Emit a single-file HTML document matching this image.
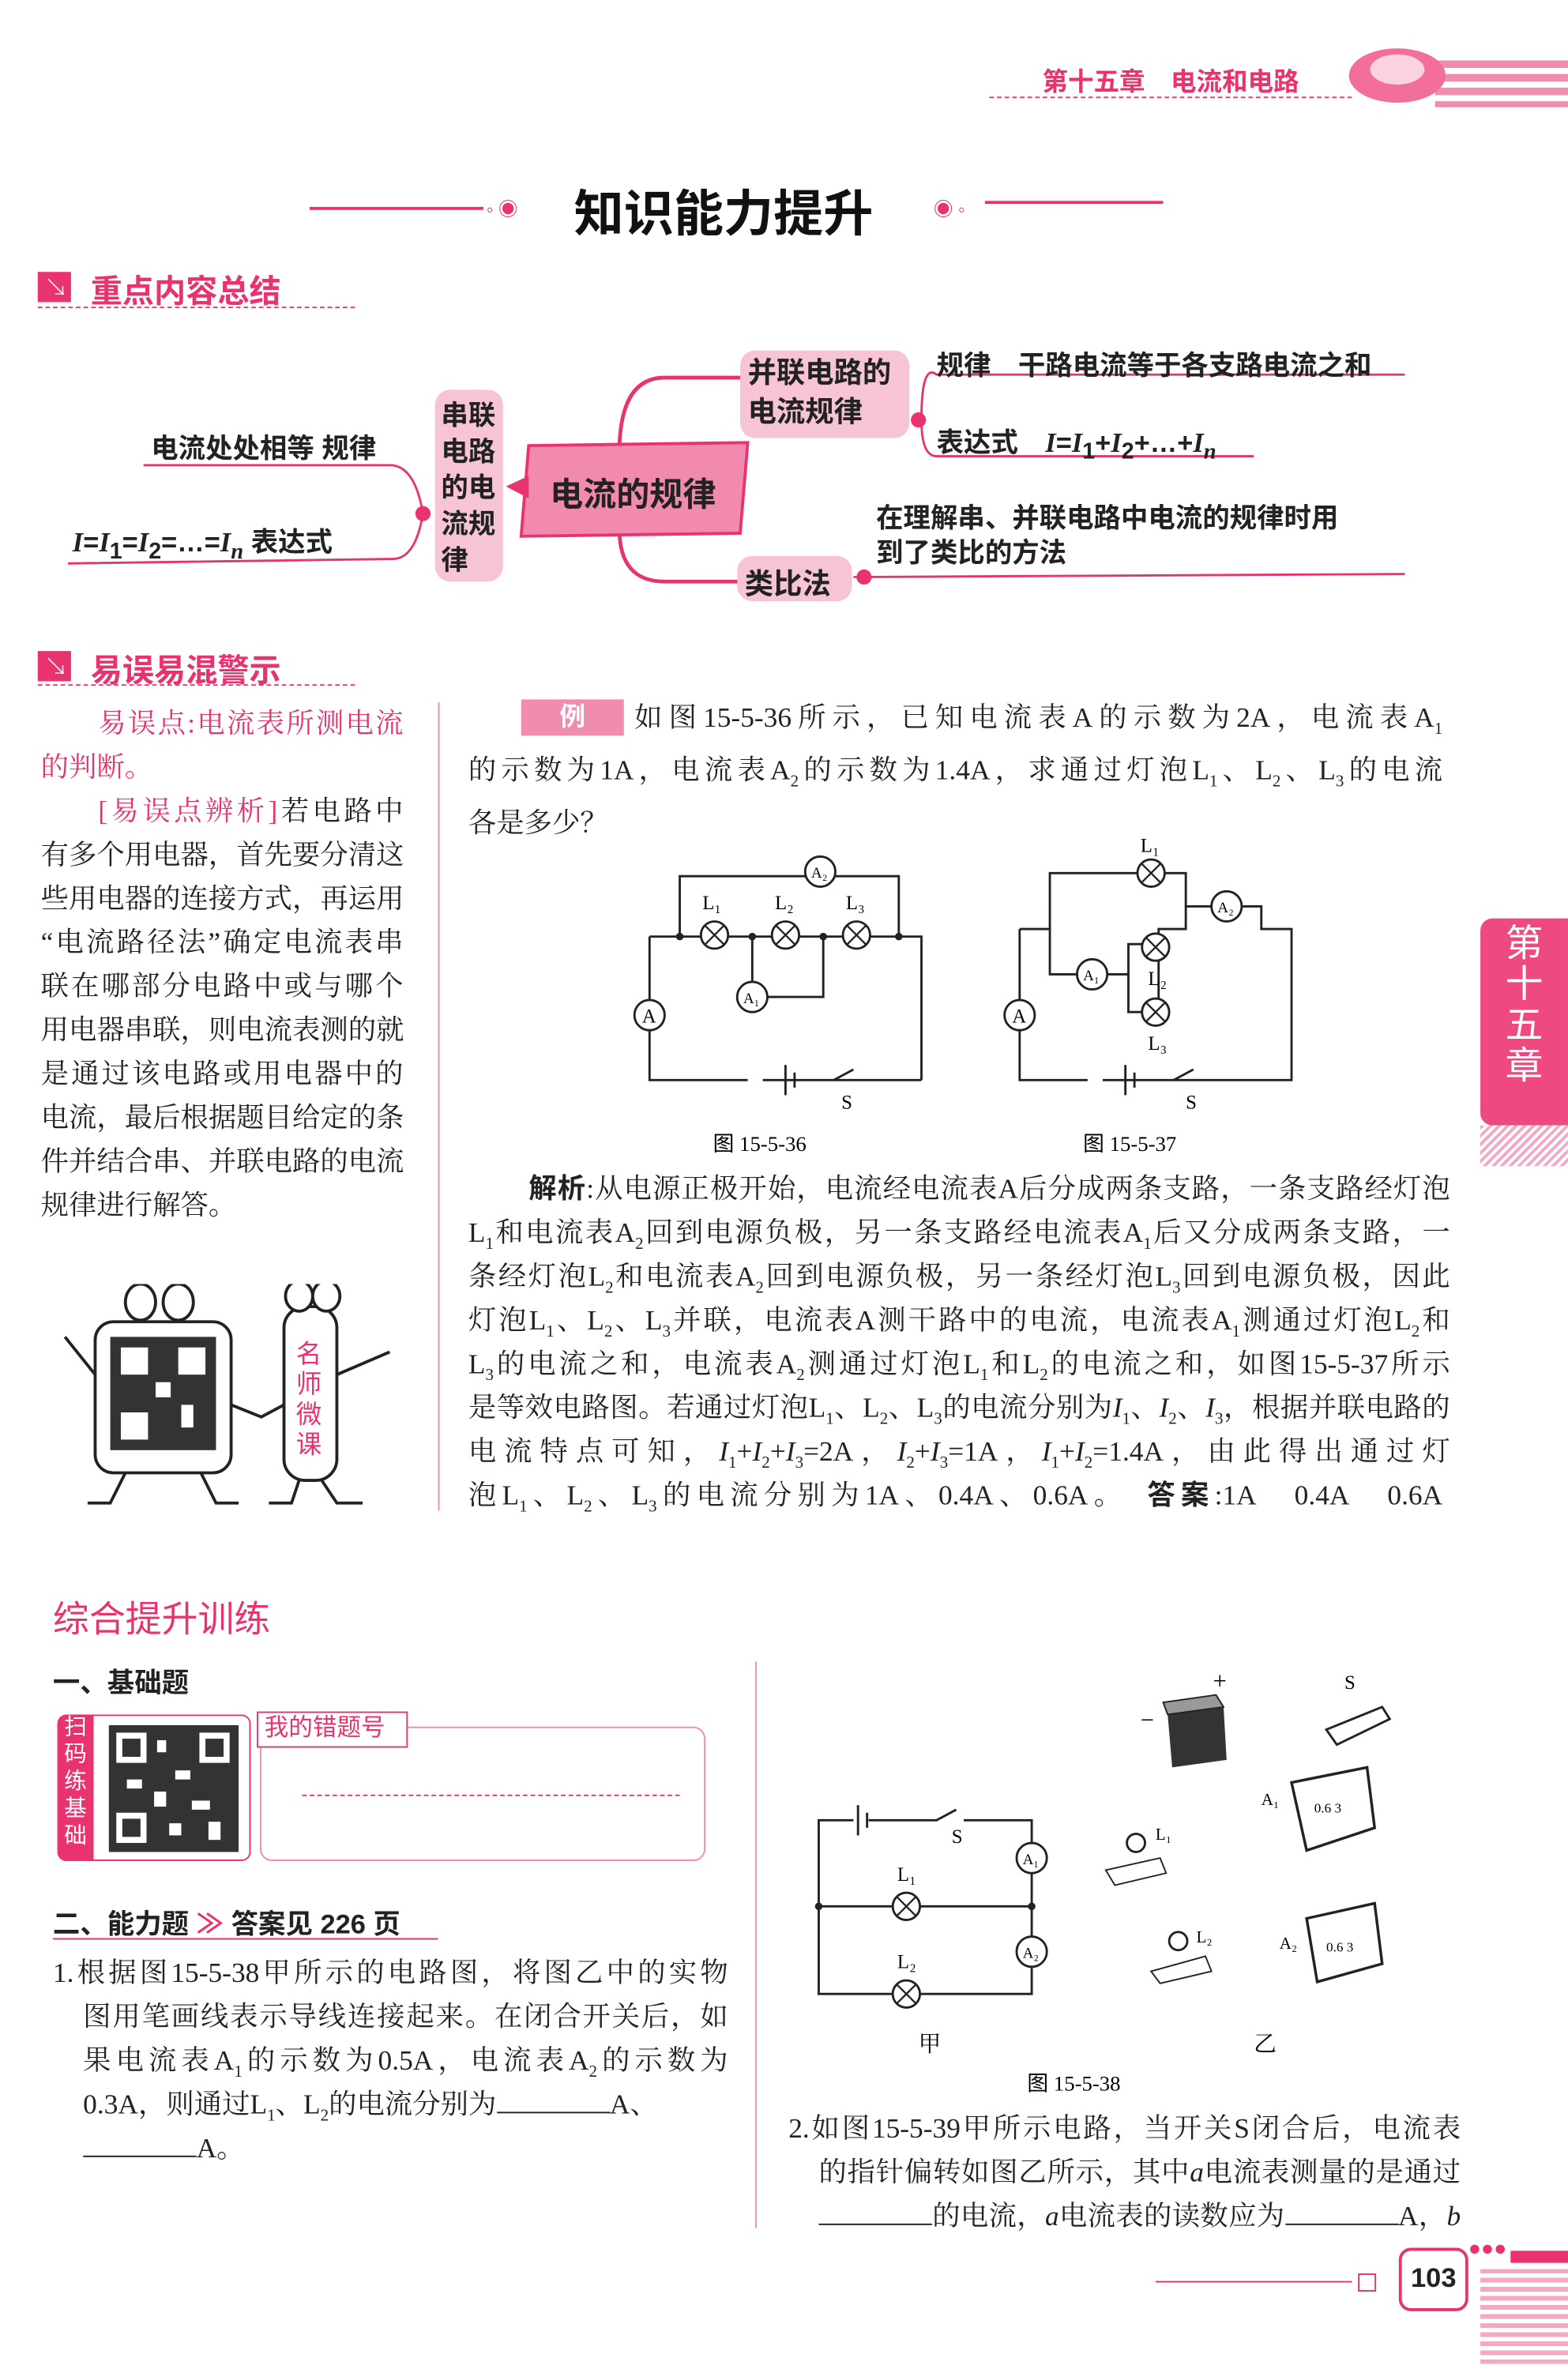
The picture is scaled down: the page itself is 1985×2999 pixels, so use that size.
<!DOCTYPE html>
<html><head><meta charset="utf-8">
<style>
html,body{margin:0;padding:0;background:#fff;}
#root{width:1985px;height:2999px;overflow:hidden;position:relative;background:#fff;}
#pg{position:absolute;left:0;top:0;width:1038px;height:1568px;transform:scale(1.9123);transform-origin:0 0;font-family:"Liberation Serif","Noto Serif CJK SC",serif;color:#222;}
.a{position:absolute;white-space:nowrap;}
.sans{font-family:"Liberation Sans","Noto Sans CJK SC",sans-serif;}
.ln{position:absolute;font-size:18.5px;text-align:justify;text-align-last:justify;white-space:nowrap;}
.pk{color:#e8336f;}
.hd{position:absolute;font-family:"Liberation Sans","Noto Sans CJK SC",sans-serif;font-weight:bold;color:#e8336f;font-size:21px;}
.icon{position:absolute;width:22px;height:20px;background:#e8336f;}
.mm{position:absolute;font-family:"Liberation Sans","Noto Sans CJK SC",sans-serif;font-weight:bold;font-size:19px;color:#222;}
i.v{font-style:italic;font-family:"Liberation Serif",serif;}
</style></head><body><div id="root"><div id="pg">

<!-- header -->
<div class="a sans" style="left:690px;top:40px;font-size:17px;font-weight:bold;color:#e8336f;">第十五章　电流和电路</div>
<div class="a" style="left:655px;top:64px;width:240px;border-top:1px dashed #e8336f;"></div>
<svg class="a" style="left:880px;top:28px" width="158" height="50">
<g fill="#f08cb0"><rect x="70" y="12" width="88" height="5"/><rect x="70" y="21" width="88" height="5"/><rect x="70" y="30" width="88" height="5"/><rect x="70" y="39" width="88" height="4"/></g>
<ellipse cx="45" cy="22" rx="32" ry="18" fill="#f26f9a"/><ellipse cx="45" cy="18" rx="18" ry="10" fill="#fbd2df"/>
</svg>

<!-- title -->
<div class="a" style="left:205px;top:137px;width:115px;border-top:2px solid #e8336f;"></div>
<div class="a pk" style="left:322px;top:128px;font-size:13px;">◦ ◉</div>
<div class="a sans" style="left:380px;top:115px;font-size:33px;font-weight:bold;color:#111;">知识能力提升</div>
<div class="a pk" style="left:618px;top:128px;font-size:13px;">◉ ◦</div>
<div class="a" style="left:652px;top:133px;width:118px;border-top:2px solid #e8336f;"></div>

<!-- section 1 -->
<div class="icon" style="left:25px;top:180px;"></div><div class="a" style="left:29px;top:178px;color:#fff;font-size:16px;font-weight:bold;">↘</div>
<div class="hd" style="left:60px;top:177px;">重点内容总结</div>
<div class="a" style="left:25px;top:203px;width:210px;border-top:1px dashed #e8336f;"></div>

<!-- mind map -->
<svg class="a" style="left:0;top:220px" width="1038" height="180">
<g stroke="#e8336f" stroke-width="2.5" fill="none">
<path d="M410 80 Q410 30 440 30 L490 30"/>
<path d="M410 130 Q410 165 440 165 L490 165"/>
<path d="M610 58 Q610 20 620 28 L930 28" stroke-width="1.5"/>
<path d="M610 58 Q610 82 620 82 L830 82" stroke-width="1.5"/>
<path d="M565 162 L930 160" stroke-width="1.5"/>
<path d="M280 120 Q275 90 260 88 L95 88" stroke-width="1.5"/>
<path d="M280 120 Q275 150 260 150 L45 153" stroke-width="1.5"/>
</g>
<polygon points="350,75 495,73 490,133 345,135" fill="#f28ab0" stroke="#e8336f" stroke-width="2"/>
<polygon points="335,102 350,95 350,110" fill="#e8336f"/>
<rect x="288" y="38" width="45" height="127" rx="10" fill="#f7c3d6"/>
<rect x="490" y="12" width="112" height="58" rx="10" fill="#f7c3d6"/>
<rect x="488" y="148" width="76" height="30" rx="10" fill="#f7c3d6"/>
<circle cx="608" cy="58" r="5" fill="#e8336f"/><circle cx="572" cy="162" r="5" fill="#e8336f"/><circle cx="280" cy="120" r="5" fill="#e8336f"/>
</svg>
<div class="mm" style="left:364px;top:310px;font-size:22px;">电流的规律</div>
<div class="mm" style="left:292px;top:263px;line-height:24px;font-size:18px;">串联<br>电路<br>的电<br>流规<br>律</div>
<div class="mm" style="left:495px;top:235px;line-height:26px;">并联电路的<br>电流规律</div>
<div class="mm" style="left:493px;top:372px;">类比法</div>
<div class="mm" style="left:620px;top:228px;font-size:18px;">规律　干路电流等于各支路电流之和</div>
<div class="mm" style="left:620px;top:279px;font-size:18px;">表达式　<i class="v">I</i>=<i class="v">I</i><sub>1</sub>+<i class="v">I</i><sub>2</sub>+…+<i class="v">I<sub>n</sub></i></div>
<div class="mm" style="left:580px;top:332px;font-size:18px;line-height:23px;">在理解串、并联电路中电流的规律时用<br>到了类比的方法</div>
<div class="mm" style="left:100px;top:283px;font-size:18px;">电流处处相等 规律</div>
<div class="mm" style="left:48px;top:345px;font-size:18px;"><i class="v">I</i>=<i class="v">I</i><sub>1</sub>=<i class="v">I</i><sub>2</sub>=…=<i class="v">I<sub>n</sub></i> 表达式</div>

<!-- section 2 -->
<div class="icon" style="left:25px;top:431px;"></div><div class="a" style="left:29px;top:429px;color:#fff;font-size:16px;font-weight:bold;">↘</div>
<div class="hd" style="left:60px;top:428px;">易误易混警示</div>
<div class="a" style="left:25px;top:453px;width:210px;border-top:1px dashed #e8336f;"></div>

<div class="a" style="left:290px;top:465px;height:535px;border-left:1.5px solid #f08cb0;"></div>
<div class="ln pk" style="left:65px;top:465px;width:202px;">易误点:电流表所测电流</div>
<div class="ln pk" style="left:27px;top:494px;">的判断。</div>
<div class="ln" style="left:65px;top:523px;width:202px;"><span class="pk">[易误点辨析]</span>若电路中</div>
<div class="ln" style="left:27px;top:552px;width:240px;">有多个用电器，首先要分清这</div>
<div class="ln" style="left:27px;top:581px;width:240px;">些用电器的连接方式，再运用</div>
<div class="ln" style="left:27px;top:610px;width:240px;">“电流路径法”确定电流表串</div>
<div class="ln" style="left:27px;top:639px;width:240px;">联在哪部分电路中或与哪个</div>
<div class="ln" style="left:27px;top:668px;width:240px;">用电器串联，则电流表测的就</div>
<div class="ln" style="left:27px;top:697px;width:240px;">是通过该电路或用电器中的</div>
<div class="ln" style="left:27px;top:726px;width:240px;">电流，最后根据题目给定的条</div>
<div class="ln" style="left:27px;top:755px;width:240px;">件并结合串、并联电路的电流</div>
<div class="ln" style="left:27px;top:784px;">规律进行解答。</div>

<!-- cartoon -->
<svg class="a" style="left:28px;top:850px" width="250" height="150">
<rect x="35" y="25" width="90" height="100" rx="12" fill="#fff" stroke="#222" stroke-width="2"/>
<rect x="45" y="35" width="70" height="75" fill="#333"/>
<rect x="52" y="42" width="18" height="18" fill="#fff"/><rect x="90" y="42" width="18" height="18" fill="#fff"/><rect x="52" y="85" width="18" height="18" fill="#fff"/>
<rect x="75" y="65" width="10" height="10" fill="#fff"/><rect x="92" y="80" width="8" height="15" fill="#fff"/>
<ellipse cx="65" cy="12" rx="10" ry="12" fill="#fff" stroke="#222" stroke-width="2"/><ellipse cx="90" cy="12" rx="10" ry="12" fill="#fff" stroke="#222" stroke-width="2"/>
<rect x="160" y="15" width="35" height="115" rx="14" fill="#fff" stroke="#222" stroke-width="2"/>
<ellipse cx="170" cy="8" rx="9" ry="10" fill="#fff" stroke="#222" stroke-width="2"/><ellipse cx="188" cy="8" rx="9" ry="10" fill="#fff" stroke="#222" stroke-width="2"/>
<text x="168" y="52" font-size="17" fill="#e8336f" font-family="Noto Sans CJK SC">名</text><text x="168" y="72" font-size="17" fill="#e8336f" font-family="Noto Sans CJK SC">师</text><text x="168" y="92" font-size="17" fill="#e8336f" font-family="Noto Sans CJK SC">微</text><text x="168" y="112" font-size="17" fill="#e8336f" font-family="Noto Sans CJK SC">课</text>
<g stroke="#222" stroke-width="2" fill="none"><path d="M55 125 L45 145 L30 145"/><path d="M105 125 L115 145 L130 145"/><path d="M170 130 L165 145 L150 145"/><path d="M185 130 L195 145 L212 145"/><path d="M35 60 L15 35"/><path d="M125 80 L145 88 L160 80"/><path d="M195 60 L230 45"/></g>
</svg>

<!-- example -->
<div class="a sans" style="left:345px;top:463px;width:68px;height:24px;background:#f08cb0;color:#fff;font-size:17px;font-weight:bold;text-align:center;line-height:24px;">例</div>
<div class="ln" style="left:420px;top:461px;width:535px;">如图15-5-36所示，已知电流表A的示数为2A，电流表A<sub style="font-size:11px">1</sub></div>
<div class="ln" style="left:310px;top:496px;width:645px;">的示数为1A，电流表A<sub style="font-size:11px">2</sub>的示数为1.4A，求通过灯泡L<sub style="font-size:11px">1</sub>、L<sub style="font-size:11px">2</sub>、L<sub style="font-size:11px">3</sub>的电流</div>
<div class="ln" style="left:310px;top:531px;">各是多少？</div>

<!-- circuits 15-5-36 / 37 -->
<svg class="a" style="left:410px;top:550px" width="470" height="215" font-family="Liberation Serif" font-size="13">
<g stroke="#222" stroke-width="1.5" fill="none">
<path d="M20 70 L20 165 L85 165 M95 165 L150 165 L200 165"/>
<path d="M110 155 L110 175 M116 160 L116 170"/>
<path d="M20 70 L40 70 L40 30 L185 30 L185 70 L200 70 L200 165"/>
<path d="M40 70 L185 70"/>
<path d="M88 70 L88 110 L135 110 L135 70"/>
<path d="M142 165 L155 158"/>
</g>
<g fill="#fff" stroke="#222" stroke-width="1.5">
<circle cx="20" cy="122" r="10"/><circle cx="133" cy="27" r="10"/><circle cx="88" cy="110" r="10"/>
<circle cx="63" cy="69" r="9"/><circle cx="110" cy="69" r="9"/><circle cx="157" cy="69" r="9"/>
</g>
<g stroke="#222" stroke-width="1.2"><path d="M57 63 L69 75 M69 63 L57 75 M104 63 L116 75 M116 63 L104 75 M151 63 L163 75 M163 63 L151 75"/></g>
<text x="15" y="127">A</text><text x="127" y="31" font-size="10">A₂</text><text x="82" y="114" font-size="10">A₁</text>
<text x="55" y="52">L₁</text><text x="103" y="52">L₂</text><text x="150" y="52">L₃</text><text x="147" y="184">S</text>
<g fill="#222"><circle cx="40" cy="70" r="2.5"/><circle cx="88" cy="70" r="2.5"/><circle cx="135" cy="70" r="2.5"/><circle cx="185" cy="70" r="2.5"/></g>
<text x="62" y="212" font-size="14">图 15-5-36</text>
<g transform="translate(245,0)">
<g stroke="#222" stroke-width="1.5" fill="none">
<path d="M20 65 L20 165 L65 165 M75 165 L130 165 L200 165 L200 65 L180 65 L180 50 L130 50 L130 28 L40 28 L40 65 L20 65"/>
<path d="M90 155 L90 175 M96 160 L96 170"/>
<path d="M40 65 L40 95 L92 95 L92 120 L112 120 L112 65 L130 65 L130 50"/>
<path d="M92 95 L92 75 L112 75"/>
<path d="M122 165 L135 158"/>
</g>
<g fill="#fff" stroke="#222" stroke-width="1.5">
<circle cx="20" cy="122" r="10"/><circle cx="157" cy="50" r="10"/><circle cx="68" cy="95" r="10"/>
<circle cx="107" cy="28" r="9"/><circle cx="110" cy="77" r="9"/><circle cx="110" cy="120" r="9"/>
</g>
<g stroke="#222" stroke-width="1.2"><path d="M101 22 L113 34 M113 22 L101 34 M104 71 L116 83 M116 71 L104 83 M104 114 L116 126 M116 114 L104 126"/></g>
<text x="15" y="127">A</text><text x="151" y="54" font-size="10">A₂</text><text x="62" y="99" font-size="10">A₁</text>
<text x="100" y="14">L₁</text><text x="105" y="102">L₂</text><text x="105" y="145">L₃</text><text x="130" y="184">S</text>
<text x="62" y="212" font-size="14">图 15-5-37</text>
</g>
</svg>

<div class="ln" style="left:350px;top:773px;width:610px;"><b class="sans">解析</b>:从电源正极开始，电流经电流表A后分成两条支路，一条支路经灯泡</div>
<div class="ln" style="left:310px;top:802px;width:650px;">L<sub style="font-size:11px">1</sub>和电流表A<sub style="font-size:11px">2</sub>回到电源负极，另一条支路经电流表A<sub style="font-size:11px">1</sub>后又分成两条支路，一</div>
<div class="ln" style="left:310px;top:831px;width:650px;">条经灯泡L<sub style="font-size:11px">2</sub>和电流表A<sub style="font-size:11px">2</sub>回到电源负极，另一条经灯泡L<sub style="font-size:11px">3</sub>回到电源负极，因此</div>
<div class="ln" style="left:310px;top:860px;width:650px;">灯泡L<sub style="font-size:11px">1</sub>、L<sub style="font-size:11px">2</sub>、L<sub style="font-size:11px">3</sub>并联，电流表A测干路中的电流，电流表A<sub style="font-size:11px">1</sub>测通过灯泡L<sub style="font-size:11px">2</sub>和</div>
<div class="ln" style="left:310px;top:889px;width:650px;">L<sub style="font-size:11px">3</sub>的电流之和，电流表A<sub style="font-size:11px">2</sub>测通过灯泡L<sub style="font-size:11px">1</sub>和L<sub style="font-size:11px">2</sub>的电流之和，如图15-5-37所示</div>
<div class="ln" style="left:310px;top:918px;width:650px;">是等效电路图。若通过灯泡L<sub style="font-size:11px">1</sub>、L<sub style="font-size:11px">2</sub>、L<sub style="font-size:11px">3</sub>的电流分别为<i>I</i><sub style="font-size:11px">1</sub>、<i>I</i><sub style="font-size:11px">2</sub>、<i>I</i><sub style="font-size:11px">3</sub>，根据并联电路的</div>
<div class="ln" style="left:310px;top:947px;width:650px;">电流特点可知，<i>I</i><sub style="font-size:11px">1</sub>+<i>I</i><sub style="font-size:11px">2</sub>+<i>I</i><sub style="font-size:11px">3</sub>=2A，<i>I</i><sub style="font-size:11px">2</sub>+<i>I</i><sub style="font-size:11px">3</sub>=1A，<i>I</i><sub style="font-size:11px">1</sub>+<i>I</i><sub style="font-size:11px">2</sub>=1.4A，由此得出通过灯</div>
<div class="ln" style="left:310px;top:976px;width:645px;">泡L<sub style="font-size:11px">1</sub>、L<sub style="font-size:11px">2</sub>、L<sub style="font-size:11px">3</sub>的电流分别为1A、0.4A、0.6A。　<b class="sans">答案</b>:1A　0.4A　0.6A</div>

<!-- right tab -->
<div class="a sans" style="left:980px;top:608px;width:58px;height:137px;background:#ee4a80;border-radius:8px 0 0 8px;color:#fff;font-size:25px;line-height:27px;text-align:center;padding-top:4px;box-sizing:border-box;">第<br>十<br>五<br>章</div>
<div class="a" style="left:980px;top:745px;width:58px;height:27px;background:repeating-linear-gradient(135deg,#f3a8c3 0 2px,#fff 2px 4px);"></div>

<!-- 综合提升训练 -->
<div class="a sans" style="left:35px;top:1052px;font-size:24px;color:#e8336f;">综合提升训练</div>
<div class="a sans" style="left:35px;top:1100px;font-size:18px;font-weight:bold;">一、基础题</div>
<div class="a" style="left:500px;top:1100px;height:375px;border-left:1.5px solid #f08cb0;"></div>

<div class="a" style="left:38px;top:1135px;width:126px;height:95px;border:1.5px solid #e8336f;border-radius:6px;"></div>
<div class="a sans" style="left:38px;top:1135px;width:24px;height:97px;background:#e8336f;color:#fff;font-size:15px;line-height:18px;text-align:center;border-radius:6px 0 0 6px;">扫<br>码<br>练<br>基<br>础</div>
<svg class="a" style="left:72px;top:1142px" width="86" height="84"><rect width="86" height="84" fill="#333"/><rect x="5" y="5" width="20" height="20" fill="#fff"/><rect x="9" y="9" width="12" height="12" fill="#333"/><rect x="60" y="5" width="20" height="20" fill="#fff"/><rect x="64" y="9" width="12" height="12" fill="#333"/><rect x="5" y="58" width="20" height="20" fill="#fff"/><rect x="9" y="62" width="12" height="12" fill="#333"/><g fill="#fff"><rect x="32" y="10" width="6" height="8"/><rect x="44" y="30" width="10" height="6"/><rect x="30" y="44" width="8" height="10"/><rect x="55" y="50" width="12" height="6"/><rect x="40" y="65" width="8" height="8"/><rect x="66" y="64" width="8" height="12"/><rect x="12" y="36" width="10" height="6"/></g></svg>
<div class="a" style="left:172px;top:1143px;width:293px;height:87px;border:1.5px solid #f08cb0;border-radius:8px;"></div>
<div class="a sans" style="left:170px;top:1133px;height:24px;width:100px;background:#fff;border:1.5px solid #e8336f;color:#e8336f;font-size:16px;line-height:22px;padding-left:4px;box-sizing:border-box;">我的错题号</div>
<div class="a" style="left:200px;top:1188px;width:250px;border-top:1px dashed #e8336f;"></div>

<div class="a sans" style="left:35px;top:1260px;font-size:18px;font-weight:bold;">二、能力题 <span class="pk">≫</span> 答案见 226 页</div>
<div class="a" style="left:35px;top:1283px;width:255px;border-top:1px solid #e8336f;"></div>

<div class="ln" style="left:35px;top:1292px;width:447px;">1.根据图15-5-38甲所示的电路图，将图乙中的实物</div>
<div class="ln" style="left:55px;top:1321px;width:427px;">图用笔画线表示导线连接起来。在闭合开关后，如</div>
<div class="ln" style="left:55px;top:1350px;width:427px;">果电流表A<sub style="font-size:11px">1</sub>的示数为0.5A，电流表A<sub style="font-size:11px">2</sub>的示数为</div>
<div class="ln" style="left:55px;top:1379px;">0.3A，则通过L<sub style="font-size:11px">1</sub>、L<sub style="font-size:11px">2</sub>的电流分别为<span style="display:inline-block;width:75px;border-bottom:1px solid #222;"></span>A、</div>
<div class="ln" style="left:55px;top:1408px;"><span style="display:inline-block;width:75px;border-bottom:1px solid #222;"></span>A。</div>

<!-- fig 15-5-38 -->
<svg class="a" style="left:520px;top:1100px" width="440" height="290" font-family="Liberation Serif" font-size="13">
<g stroke="#222" stroke-width="1.5" fill="none">
<path d="M22 162 L22 105 L45 105 M55 105 L100 105 L113 98 M118 105 L163 105 L163 220 L22 220 L22 162 L163 162"/>
<path d="M48 95 L48 115 M54 100 L54 110"/>
</g>
<g fill="#fff" stroke="#222" stroke-width="1.5"><circle cx="163" cy="130" r="10"/><circle cx="163" cy="192" r="10"/><circle cx="80" cy="162" r="9"/><circle cx="80" cy="220" r="9"/></g>
<g stroke="#222" stroke-width="1.2"><path d="M74 156 L86 168 M86 156 L74 168 M74 214 L86 226 M86 214 L74 226"/></g>
<text x="157" y="134" font-size="10">A₁</text><text x="157" y="196" font-size="10">A₂</text><text x="74" y="145">L₁</text><text x="74" y="203">L₂</text><text x="110" y="120">S</text>
<g fill="#222"><circle cx="22" cy="162" r="2.5"/><circle cx="163" cy="162" r="2.5"/></g>
<text x="88" y="258" font-size="15" font-family="Noto Serif CJK SC">甲</text><text x="310" y="258" font-size="15" font-family="Noto Serif CJK SC">乙</text>
<text x="160" y="284" font-size="14">图 15-5-38</text>
<text x="283" y="18" font-size="16">+</text><text x="235" y="44" font-size="16">−</text>
<path d="M253 35 L290 30 L292 65 L256 70 Z" fill="#333"/><path d="M253 35 L290 30 L285 22 L250 27 Z" fill="#999" stroke="#222"/>
<text x="370" y="18">S</text><path d="M358 45 L395 30 L400 38 L365 55 Z" fill="#fff" stroke="#222" stroke-width="1.5"/>
<path d="M335 80 L385 70 L390 110 L345 125 Z" fill="#fff" stroke="#222" stroke-width="1.8"/><text x="350" y="100" font-size="9">0.6 3</text><text x="315" y="95" font-size="11">A₁</text>
<path d="M345 170 L390 160 L395 200 L352 212 Z" fill="#fff" stroke="#222" stroke-width="1.8"/><text x="358" y="192" font-size="9">0.6 3</text><text x="327" y="190" font-size="11">A₂</text>
<path d="M212 138 L248 130 L252 140 L218 148 Z" fill="#fff" stroke="#222"/><circle cx="232" cy="120" r="6" fill="#fff" stroke="#222" stroke-width="1.5"/><text x="245" y="118" font-size="11">L₁</text>
<path d="M242 205 L278 195 L282 205 L248 213 Z" fill="#fff" stroke="#222"/><circle cx="260" cy="185" r="6" fill="#fff" stroke="#222" stroke-width="1.5"/><text x="272" y="186" font-size="11">L₂</text>
</svg>

<div class="ln" style="left:522px;top:1395px;width:445px;">2.如图15-5-39甲所示电路，当开关S闭合后，电流表</div>
<div class="ln" style="left:542px;top:1424px;width:425px;">的指针偏转如图乙所示，其中<i>a</i>电流表测量的是通过</div>
<div class="ln" style="left:542px;top:1453px;width:425px;"><span style="display:inline-block;width:75px;border-bottom:1px solid #222;"></span>的电流，<i>a</i>电流表的读数应为<span style="display:inline-block;width:75px;border-bottom:1px solid #222;"></span>A，<i>b</i></div>

<!-- footer -->
<div class="a" style="left:765px;top:1510px;width:130px;border-top:1.5px solid #e8336f;"></div>
<div class="a" style="left:899px;top:1505px;width:10px;height:10px;border:1px solid #e8336f;"></div>
<div class="a sans" style="left:926px;top:1488px;width:42px;height:38px;border:2px solid #e8336f;border-radius:8px;font-size:18px;font-weight:bold;text-align:center;line-height:36px;color:#222;">103</div>
<div class="a pk" style="left:972px;top:1482px;font-size:14px;">●●●</div>
<div class="a" style="left:1000px;top:1490px;width:38px;height:8px;background:#e8336f;"></div>
<div class="a" style="left:980px;top:1502px;width:58px;height:66px;background:repeating-linear-gradient(180deg,#f3a8c3 0 3px,#fff 3px 6px);"></div>

</div></div></body></html>
